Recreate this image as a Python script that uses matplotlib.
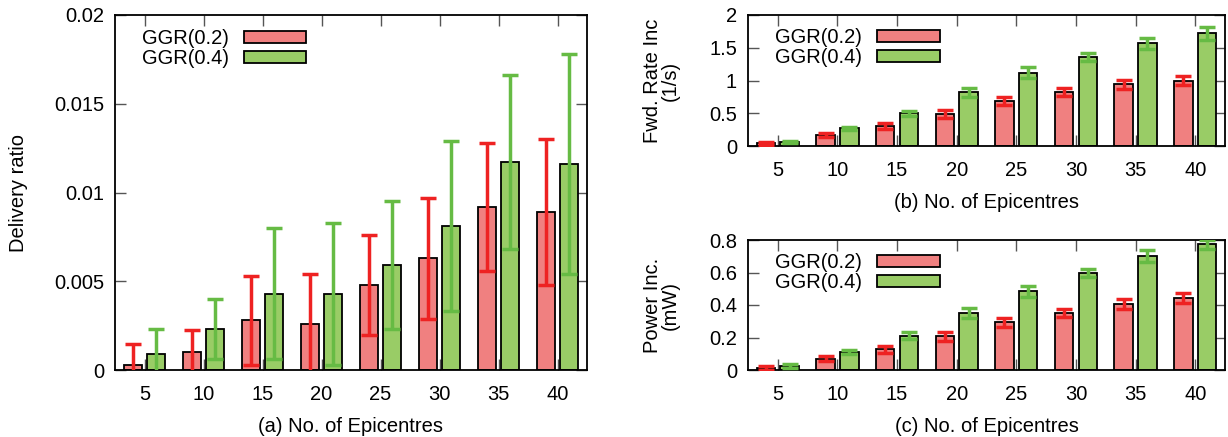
import numpy as np
import matplotlib
matplotlib.use('Agg')
import matplotlib.pyplot as plt

plt.rcParams['font.family'] = ['Liberation Sans', 'DejaVu Sans']

epicentres = ['5', '10', '15', '20', '25', '30', '35', '40']
series_names = ['GGR(0.2)', 'GGR(0.4)']

# (a) delivery ratio
deliv_02 = [0.0003, 0.0010, 0.0028, 0.0026, 0.0048, 0.0063, 0.0092, 0.0089]
deliv_02_err = [0.00115, 0.00124, 0.0025, 0.0028, 0.0028, 0.0034, 0.0036, 0.0041]
deliv_04 = [0.0009, 0.0023, 0.0043, 0.0043, 0.0059, 0.0081, 0.0117, 0.0116]
deliv_04_err = [0.0014, 0.0017, 0.0037, 0.0040, 0.0036, 0.0048, 0.0049, 0.0062]

# (b) forwarding rate increase
fwd_02 = [0.04, 0.17, 0.31, 0.49, 0.69, 0.82, 0.94, 1.00]
fwd_02_err = [0.02, 0.03, 0.045, 0.06, 0.065, 0.06, 0.065, 0.075]
fwd_04 = [0.06, 0.27, 0.50, 0.82, 1.12, 1.36, 1.57, 1.72]
fwd_04_err = [0.02, 0.02, 0.04, 0.065, 0.08, 0.055, 0.085, 0.10]

# (c) power increase
pow_02 = [0.015, 0.07, 0.127, 0.207, 0.293, 0.351, 0.408, 0.443]
pow_02_err = [0.012, 0.015, 0.02, 0.027, 0.03, 0.027, 0.03, 0.031]
pow_04 = [0.025, 0.109, 0.211, 0.349, 0.484, 0.597, 0.702, 0.773]
pow_04_err = [0.012, 0.013, 0.02, 0.03, 0.033, 0.025, 0.036, 0.03]

fill_cols = ['#f08080', '#99cc66']
err_cols = ['#ee2222', '#66bb44']
FS = 14.5

W, H = 1228, 437
fig = plt.figure(figsize=(W / 100, H / 100), dpi=100)


def px_axes(x0, y0, x1, y1):
    return fig.add_axes([x0 / W, 1 - y1 / H, (x1 - x0) / W, (y1 - y0) / H])


def draw(ax, a, a_err, b, b_err, ymax, yticks, yticklabels, xlabel, ylabel, leg_x, leg_y):
    x = np.arange(len(epicentres))
    for off, vals, errs, fc, ec in [(-0.2, a, a_err, fill_cols[0], err_cols[0]),
                                    (0.2, b, b_err, fill_cols[1], err_cols[1])]:
        ax.bar(x + off, vals, width=0.31, color=fc, edgecolor='black', linewidth=1.3, zorder=2)
        ax.errorbar(x + off, vals, yerr=errs, fmt='none', ecolor=ec, elinewidth=2.5,
                    capsize=6, capthick=2.5, zorder=3)
    ax.set_xlim(-0.5, 7.5)
    ax.set_ylim(0, ymax)
    ax.set_xticks(x)
    ax.set_xticklabels(epicentres)
    ax.set_yticks(yticks)
    ax.set_yticklabels(yticklabels)
    ax.tick_params(direction='in', length=8, width=1, color='#555555', top=True, right=True,
                   labelsize=FS, pad=8)
    ax.tick_params(axis='x', pad=11)
    ax.set_axisbelow(True)
    for s in ax.spines.values():
        s.set_linewidth(1.3)
    ax.set_xlabel(xlabel, fontsize=FS, labelpad=9)
    ax.set_ylabel(ylabel, fontsize=FS, linespacing=0.95)
    handles = [plt.Rectangle((0, 0), 1, 1, facecolor=c, edgecolor='black', linewidth=1.3)
               for c in fill_cols]
    ax.legend(handles, series_names, loc='upper left', frameon=False, fontsize=FS,
              markerfirst=False, handlelength=3.1, handleheight=0.55, handletextpad=0.75,
              labelspacing=0.05, borderpad=0, borderaxespad=0,
              bbox_to_anchor=(leg_x, leg_y))


ax1 = px_axes(115, 15, 587, 370)
draw(ax1, deliv_02, deliv_02_err, deliv_04, deliv_04_err, 0.02,
     [0, 0.005, 0.01, 0.015, 0.02], ['0', '0.005', '0.01', '0.015', '0.02'],
     '(a) No. of Epicentres', 'Delivery ratio', 0.057, 0.96)
ax1.yaxis.set_label_coords(-0.185, 0.5)

ax2 = px_axes(748, 15, 1225, 146)
draw(ax2, fwd_02, fwd_02_err, fwd_04, fwd_04_err, 2,
     [0, 0.5, 1, 1.5, 2], ['0', '0.5', '1', '1.5', '2'],
     '(b) No. of Epicentres', 'Fwd. Rate Inc\n(1/s)', 0.057, 0.9)
ax2.yaxis.set_label_coords(-0.143, 0.5)

ax3 = px_axes(748, 240, 1225, 370)
draw(ax3, pow_02, pow_02_err, pow_04, pow_04_err, 0.8,
     [0, 0.2, 0.4, 0.6, 0.8], ['0', '0.2', '0.4', '0.6', '0.8'],
     '(c) No. of Epicentres', 'Power Inc.\n(mW)', 0.057, 0.9)
ax3.yaxis.set_label_coords(-0.143, 0.5)

fig.savefig('out.png', dpi=100)
